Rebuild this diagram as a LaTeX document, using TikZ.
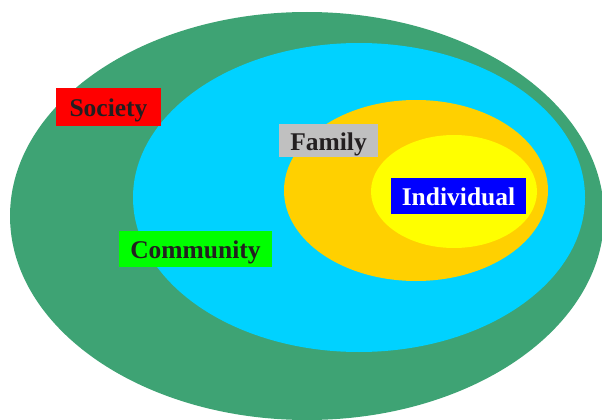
\documentclass[tikz,border=0pt]{standalone}
\usepackage{fontspec}
\setmainfont{Liberation Serif}
\definecolor{outergreen}{HTML}{3EA374}
\definecolor{cyanfill}{HTML}{00D2FF}
\definecolor{goldfill}{HTML}{FFD000}
\definecolor{yellowfill}{HTML}{FFFF00}
\definecolor{labeltext}{HTML}{231F20}
\definecolor{graybox}{HTML}{C0C0C0}
\begin{document}
\begin{tikzpicture}[x=1pt,y=-1pt,
  lbl/.style={inner sep=0pt, minimum height=#1, text height=19.5pt, text depth=0pt, font=\fontsize{25.5}{28}\selectfont\bfseries, text=labeltext},
  lbl/.default=36pt]
\useasboundingbox (0,0) rectangle (602,420);
\clip (0,0) rectangle (602,420);
\fill[outergreen] (307,216) ellipse [x radius=297pt, y radius=204pt];
\fill[cyanfill] (359,197.5) ellipse [x radius=226pt, y radius=154.5pt];
\fill[goldfill] (416,190.5) ellipse [x radius=132pt, y radius=90.5pt];
\fill[yellowfill] (454,191.5) ellipse [x radius=83pt, y radius=56.5pt];
\node[lbl=38pt, fill=red, minimum width=105pt] (society) at (108.5,107) {Society};
\node[lbl=33pt, fill=graybox, minimum width=99pt] (family) at (328.5,140.5) {Family};
\node[lbl=36pt, fill=blue, text=white, minimum width=135pt] (individual) at (458.5,196) {Individual};
\node[lbl=36pt, fill=green, minimum width=153pt] (community) at (195.5,249) {Community};
\end{tikzpicture}
\end{document}
